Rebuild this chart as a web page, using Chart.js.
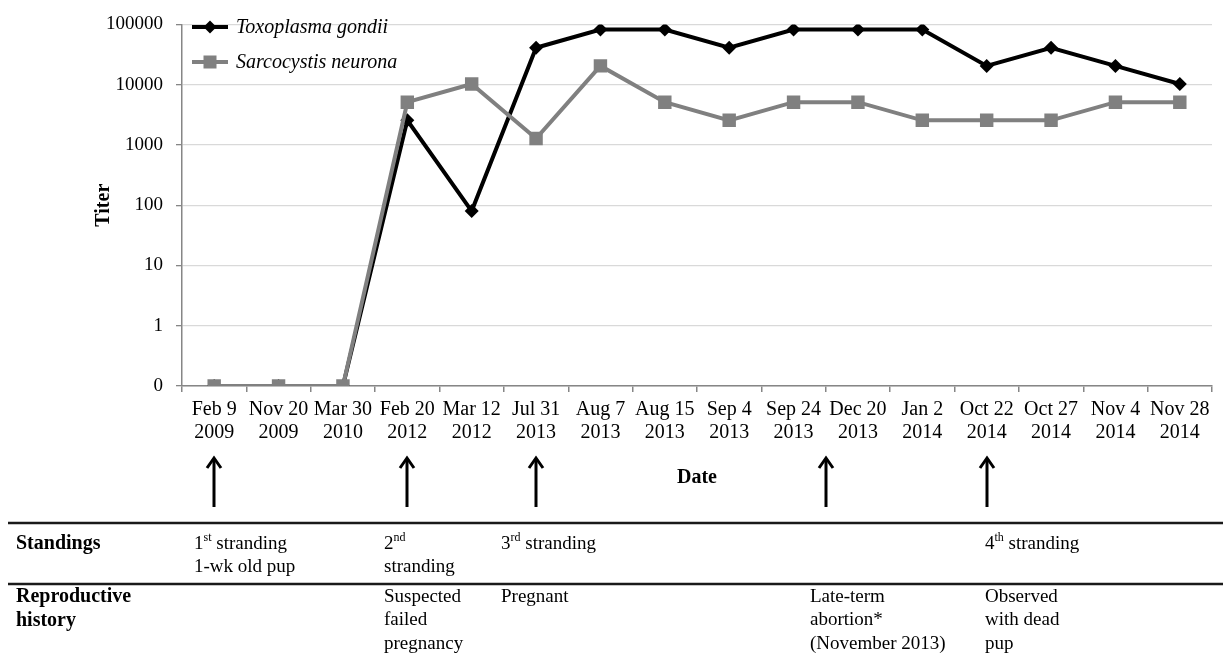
<!DOCTYPE html>
<html>
<head>
<meta charset="utf-8">
<script src="https://cdn.jsdelivr.net/npm/chart.js@4.4.0/dist/chart.umd.min.js"></script>
<style>
    html, body { margin: 0; padding: 0; background: #fff; }
    #contenedor { width: 1223px; height: 666px; position: relative; }
</style>
</head>
<body>
<div id="contenedor"><canvas id="titerChart"></canvas></div>
<script>
// --- DATOS ---
var fechas = [
    ['Feb 9', '2009'], ['Nov 20', '2009'], ['Mar 30', '2010'], ['Feb 20', '2012'],
    ['Mar 12', '2012'], ['Jul 31', '2013'], ['Aug 7', '2013'], ['Aug 15', '2013'],
    ['Sep 4', '2013'], ['Sep 24', '2013'], ['Dec 20', '2013'], ['Jan 2', '2014'],
    ['Oct 22', '2014'], ['Oct 27', '2014'], ['Nov 4', '2014'], ['Nov 28', '2014']
];
var toxoplasma = [0, 0, 0, 2560, 80, 40960, 81920, 81920, 40960, 81920, 81920, 81920, 20480, 40960, 20480, 10240];
var sarcocystis = [0, 0, 0, 5120, 10240, 1280, 20480, 5120, 2560, 5120, 5120, 2560, 2560, 2560, 5120, 5120];
var ticksTiter = [0, 1, 10, 100, 1000, 10000, 100000];

// flechas de varamiento (indice de fecha; 9.5 = entre Sep 24 y Dec 20)
var flechas = [0, 3, 5, 9.5, 12];

// tabla inferior
var encabezados = [['Standings'], ['Reproductive', 'history']];
var filaStrandings = [
    [['1', { sup: 'st' }, ' stranding'], ['1-wk old pup']],
    [['2', { sup: 'nd' }], ['stranding']],
    [['3', { sup: 'rd' }, ' stranding']],
    [],
    [['4', { sup: 'th' }, ' stranding']]
];
var filaReproductiva = [
    [],
    [['Suspected'], ['failed'], ['pregnancy']],
    [['Pregnant']],
    [['Late-term'], ['abortion*'], ['(November 2013)']],
    [['Observed'], ['with dead'], ['pup']]
];

// el 0 se dibuja una decada por debajo de 1
function aLog(v) { return v === 0 ? 0.1 : v; }

var SERIF = "'Liberation Serif', 'Times New Roman', serif";

function textoRico(ctx, partes, x, y, size) {
    var cx = x;
    partes.forEach(function (p) {
        if (typeof p === 'string') {
            ctx.font = size + 'px ' + SERIF;
            ctx.fillText(p, cx, y);
            cx += ctx.measureText(p).width;
        } else {
            ctx.font = Math.round(size * 0.62) + 'px ' + SERIF;
            ctx.fillText(p.sup, cx, y - size * 0.32);
            cx += ctx.measureText(p.sup).width;
        }
    });
}

var extras = {
    id: 'extras',
    afterDraw: function (chart) {
        var ctx = chart.ctx;
        var x = chart.scales.x;
        ctx.save();

        // --- leyenda ---
        var ds = chart.data.datasets;
        var filas = [27, 62];
        ds.forEach(function (d, i) {
            var y = filas[i];
            ctx.strokeStyle = d.borderColor;
            ctx.lineWidth = 4;
            ctx.beginPath();
            ctx.moveTo(192, y);
            ctx.lineTo(228, y);
            ctx.stroke();
            ctx.fillStyle = d.borderColor;
            if (d.pointStyle === 'rectRot') {
                ctx.beginPath();
                ctx.moveTo(210, y - 6.5); ctx.lineTo(216.5, y); ctx.lineTo(210, y + 6.5); ctx.lineTo(203.5, y);
                ctx.closePath();
                ctx.fill();
            } else {
                ctx.fillRect(203.5, y - 6.5, 13, 13);
            }
            ctx.fillStyle = '#000';
            ctx.font = 'italic 20px ' + SERIF;
            ctx.textBaseline = 'middle';
            ctx.textAlign = 'left';
            ctx.fillText(d.label, 236, y + 1);
        });

        // --- flechas ---
        ctx.strokeStyle = '#000';
        ctx.lineWidth = 3;
        ctx.lineCap = 'butt';
        flechas.forEach(function (f) {
            var px = Math.round(x.getPixelForValue(f));
            ctx.beginPath();
            ctx.moveTo(px, 507);
            ctx.lineTo(px, 459);
            ctx.stroke();
            ctx.beginPath();
            ctx.moveTo(px - 7, 468);
            ctx.lineTo(px, 458);
            ctx.lineTo(px + 7, 468);
            ctx.stroke();
        });

        // --- tabla ---
        ctx.strokeStyle = '#1a1a1a';
        ctx.lineWidth = 2.5;
        [523, 584].forEach(function (ly) {
            ctx.beginPath();
            ctx.moveTo(8, ly);
            ctx.lineTo(1223, ly);
            ctx.stroke();
        });

        ctx.fillStyle = '#000';
        ctx.textBaseline = 'middle';
        ctx.textAlign = 'left';
        var lh = 23.5;
        var y1 = 544, y2 = 597;
        ctx.font = 'bold 20px ' + SERIF;
        encabezados[0].forEach(function (t, k) { ctx.fillText(t, 16, y1 + k * lh); });
        ctx.font = 'bold 20px ' + SERIF;
        encabezados[1].forEach(function (t, k) { ctx.fillText(t, 16, y2 + k * lh); });

        var colX = [194, 384, 501, 810, 985];
        filaStrandings.forEach(function (celda, c) {
            celda.forEach(function (linea, k) { textoRico(ctx, linea, colX[c], y1 + k * lh, 19); });
        });
        filaReproductiva.forEach(function (celda, c) {
            celda.forEach(function (linea, k) { textoRico(ctx, linea, colX[c], y2 + k * lh, 19); });
        });

        ctx.restore();
    }
};

var ctx = document.getElementById('titerChart').getContext('2d');
var chartTiter = new Chart(ctx, {
    type: 'line',
    data: {
        labels: fechas,
        datasets: [{
            label: 'Toxoplasma gondii',
            data: toxoplasma.map(aLog),
            borderColor: '#000000',
            backgroundColor: '#000000',
            borderWidth: 4,
            pointStyle: 'rectRot',
            pointRadius: 7,
            pointBorderWidth: 0,
            tension: 0,
            order: 1
        }, {
            label: 'Sarcocystis neurona',
            data: sarcocystis.map(aLog),
            borderColor: '#808080',
            backgroundColor: '#808080',
            borderWidth: 4,
            pointStyle: 'rect',
            pointRadius: 9.5,
            pointBorderWidth: 0,
            tension: 0,
            order: 0
        }]
    },
    options: {
        responsive: true,
        maintainAspectRatio: false,
        animation: false,
        layout: { padding: { left: 0, right: 11, top: 17, bottom: 170 } },
        plugins: { legend: { display: false }, tooltip: { enabled: false } },
        scales: {
            x: {
                type: 'category',
                offset: true,
                border: { color: '#868686', width: 1.5 },
                grid: { drawOnChartArea: false, offset: true, color: '#868686', tickLength: 6, lineWidth: 1.5 },
                ticks: {
                    color: '#000',
                    padding: 6,
                    maxRotation: 0,
                    autoSkip: false,
                    font: { family: SERIF, size: 20, lineHeight: 1.17 }
                },
                title: {
                    display: true,
                    text: 'Date',
                    color: '#000',
                    font: { family: SERIF, size: 20, weight: 'bold' },
                    padding: { top: 0, bottom: 6 }
                },
                afterFit: function (s) { s.height = 110; }
            },
            y: {
                type: 'logarithmic',
                min: 0.1,
                max: 100000,
                border: { color: '#868686', width: 1.5 },
                grid: { color: '#d9d9d9', lineWidth: 1.3, tickColor: '#868686', tickLength: 6 },
                afterBuildTicks: function (s) {
                    s.ticks = ticksTiter.map(function (v) { return { value: aLog(v) }; });
                },
                ticks: {
                    color: '#000',
                    padding: 13,
                    font: { family: SERIF, size: 19 },
                    callback: function (v) { return v === 0.1 ? '0' : String(v); }
                },
                title: {
                    display: true,
                    text: 'Titer',
                    color: '#000',
                    font: { family: SERIF, size: 20, weight: 'bold' },
                    padding: { top: 92, bottom: 0 }
                },
                afterFit: function (s) { s.width = 182; }
            }
        }
    },
    plugins: [extras]
});
</script>
</body>
</html>
